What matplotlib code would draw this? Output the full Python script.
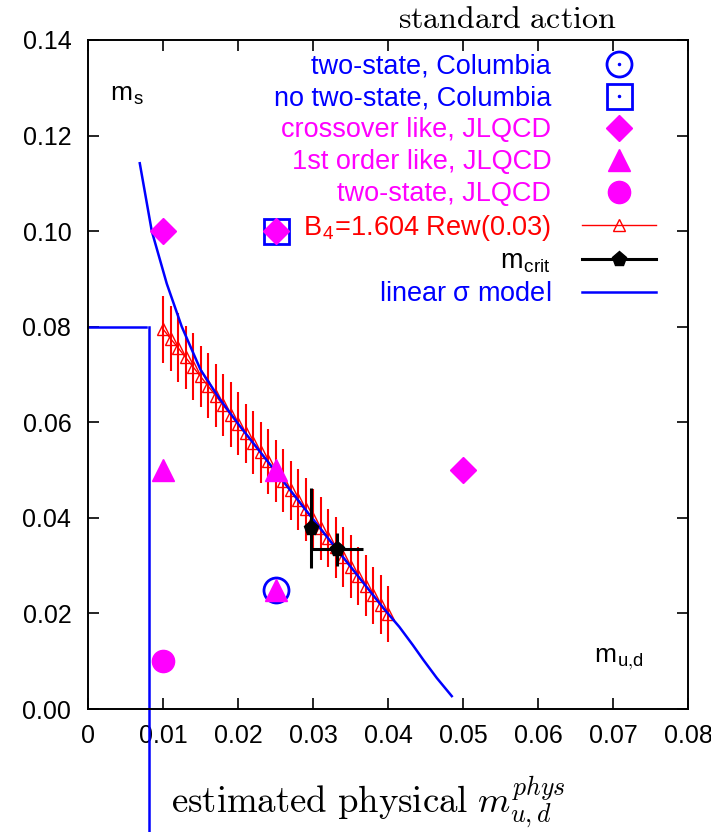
import matplotlib.pyplot as plt
from matplotlib.lines import Line2D
from matplotlib.legend_handler import HandlerTuple

plt.rcParams['font.family'] = ['Liberation Sans', 'DejaVu Sans']
plt.rcParams['mathtext.fontset'] = 'cm'

### data ###
# B4 = 1.604 reweighting (0.03)
b4_x = [0.010, 0.011, 0.012, 0.013, 0.014, 0.015, 0.016, 0.017, 0.018, 0.019,
        0.020, 0.021, 0.022, 0.023, 0.024, 0.025, 0.026, 0.027, 0.028, 0.029,
        0.030, 0.031, 0.032, 0.033, 0.034, 0.035, 0.036, 0.037, 0.038, 0.039, 0.040]
b4_y = [0.0795, 0.0775, 0.0756, 0.0736, 0.0716, 0.0696, 0.0676, 0.0656, 0.0636, 0.0616,
        0.0597, 0.0577, 0.0557, 0.0537, 0.0518, 0.0498, 0.0478, 0.0458, 0.0438, 0.0418,
        0.0398, 0.0378, 0.0358, 0.0338, 0.0318, 0.0298, 0.0278, 0.0258, 0.0238, 0.0218, 0.0199]
b4_err = [0.0070, 0.0068, 0.0072, 0.0066, 0.0070, 0.0064, 0.0068, 0.0066, 0.0064, 0.0068,
          0.0066, 0.0062, 0.0066, 0.0064, 0.0068, 0.0064, 0.0066, 0.0062, 0.0064, 0.0066,
          0.0062, 0.0066, 0.0060, 0.0064, 0.0062, 0.0066, 0.0060, 0.0064, 0.0060, 0.0062, 0.0058]

# critical masses
crit_x = [0.0297, 0.0332]
crit_y = [0.0379, 0.0334]
crit_xerr = [0.0, 0.0034]
crit_yerr = [0.0083, 0.0035]

# linear sigma model
sig_x = [0.0069, 0.0085, 0.0105, 0.0125, 0.0150, 0.0175, 0.020, 0.025, 0.030, 0.035,
         0.0396, 0.0415, 0.0433, 0.0447, 0.0465, 0.0485]
sig_y = [0.1142, 0.1000, 0.0890, 0.0800, 0.0710, 0.0650, 0.0597, 0.0497, 0.0397, 0.0298,
         0.0207, 0.0172, 0.0134, 0.0103, 0.0065, 0.0027]

# Columbia
col2_x = [0.025]
col2_y = [0.025]
colno_x = [0.025]
colno_y = [0.100]
# JLQCD
cross_x = [0.010, 0.025, 0.050]
cross_y = [0.100, 0.100, 0.050]
first_x = [0.010, 0.025, 0.025]
first_y = [0.050, 0.050, 0.025]
jl2_x = [0.010]
jl2_y = [0.010]

# estimated physical point
phys_mud = 0.0081
phys_ms = 0.080

fig = plt.figure(figsize=(7.11, 8.32), dpi=100)
ax = fig.add_axes([0.1238, 0.1478, 0.8439, 0.8042])

blue = '#0000ff'
mag = '#ff00ff'
red = '#ff0000'

ax.plot([0, phys_mud - 0.0004], [phys_ms, phys_ms], color=blue, lw=1.8, clip_on=False, zorder=2)
ax.plot([phys_mud, phys_mud], [phys_ms, -0.0265], color=blue, lw=1.8, clip_on=False, zorder=2)

ax.errorbar(b4_x, b4_y, yerr=b4_err, color=red, lw=1.0, elinewidth=1.5,
            marker='^', ms=9, mfc='none', mec=red, mew=1.0, capsize=0, zorder=3)
ax.plot(sig_x, sig_y, color=blue, lw=1.8, zorder=4)
ax.errorbar(crit_x, crit_y, xerr=crit_xerr, yerr=crit_yerr, color='black', ls='none',
            elinewidth=2.2, marker='p', ms=11, capsize=0, zorder=5)

ax.plot(col2_x, col2_y, 'o', ms=18, mfc='none', mec=blue, mew=2, zorder=6)
ax.plot(colno_x, colno_y, 's', ms=18, mfc='none', mec=blue, mew=2, zorder=6)
ax.plot(cross_x, cross_y, 'D', ms=13, color=mag, zorder=7)
ax.plot(first_x, first_y, '^', ms=16, color=mag, zorder=7)
ax.plot(jl2_x, jl2_y, 'o', ms=16, color=mag, zorder=7)

ax.set_xlim(0, 0.08)
ax.set_ylim(0, 0.14)
ax.set_xticks([0, 0.01, 0.02, 0.03, 0.04, 0.05, 0.06, 0.07, 0.08])
ax.set_xticklabels(['0', '0.01', '0.02', '0.03', '0.04', '0.05', '0.06', '0.07', '0.08'])
ax.set_yticks([0, 0.02, 0.04, 0.06, 0.08, 0.10, 0.12, 0.14])
ax.set_yticklabels(['0.00', '0.02', '0.04', '0.06', '0.08', '0.10', '0.12', '0.14'])
ax.tick_params(direction='in', top=True, right=True, length=8, width=1.2, labelsize=18)
ax.tick_params(axis='y', pad=12)
ax.tick_params(axis='x', pad=11)
for s in ax.spines.values():
    s.set_linewidth(1.4)

ax.text(0.0029, 0.1285, r'm$_\mathregular{s}$', fontsize=19, va='center')
ax.text(0.0675, 0.0105, r'm$_{\mathregular{u}{,}\mathregular{d}}$', fontsize=19, va='center')

ax.set_xlabel(r'$\mathrm{estimated\ physical}\ m_{u,d}^{phys}$', fontsize=26.5)
ax.xaxis.set_label_coords(0.468, -0.097)
fig.text(0.713, 0.976, r'$\mathrm{standard\ action}$', fontsize=23, ha='center', va='center')

dot = Line2D([], [], ls='none', marker='.', ms=3, color=blue)
handles = [
    (Line2D([], [], ls='none', marker='o', ms=18, mfc='none', mec=blue, mew=2), dot),
    (Line2D([], [], ls='none', marker='s', ms=18, mfc='none', mec=blue, mew=2), dot),
    Line2D([], [], ls='none', marker='D', ms=13, color=mag),
    Line2D([], [], ls='none', marker='^', ms=16, color=mag),
    Line2D([], [], ls='none', marker='o', ms=16, color=mag),
    Line2D([], [], color=red, lw=1.0, marker='^', ms=9, mfc='none', mec=red, mew=1.0),
    Line2D([], [], color='black', lw=2.2, marker='p', ms=11),
    Line2D([], [], color=blue, lw=1.8),
]
labels = ['two-state, Columbia', 'no two-state, Columbia', 'crossover like, JLQCD',
          '1st order like, JLQCD', 'two-state, JLQCD', r'B$_\mathregular{4}$=1.604 Rew(0.03)',
          r'm$_\mathregular{crit}$', r'linear $\mathregular{\sigma}$ model']
colors = [blue, blue, mag, mag, mag, red, 'black', blue]
ax.legend(handles, labels, loc='upper right', bbox_to_anchor=(0.955, 0.9875),
          markerfirst=False, frameon=False,
          fontsize=19.5, labelcolor=colors, handlelength=2.7, handletextpad=1.15,
          labelspacing=0.215, borderaxespad=0, borderpad=0.2,
          handler_map={tuple: HandlerTuple(ndivide=1, pad=0)})

fig.savefig('out.png', dpi=100)
